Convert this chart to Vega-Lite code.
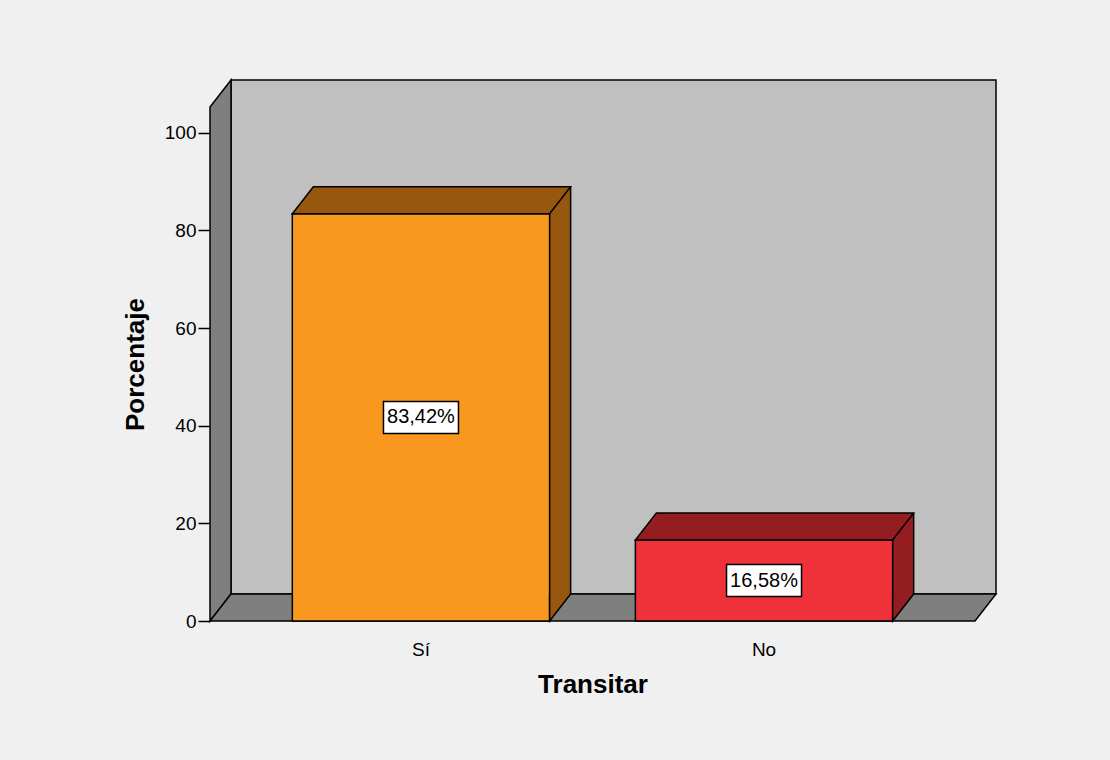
{
  "$schema": "https://vega.github.io/schema/vega-lite/v6.json",
  "autosize": "none",
  "width": 765,
  "height": 514,
  "padding": {"left": 210, "top": 107, "right": 135, "bottom": 139},
  "background": "#f0f0f0",
  "config": {"view": {"stroke": null}, "font": "Liberation Sans"},
  "data": {"values": [
    {"Transitar": "Sí", "Porcentaje": 83.42, "Etiqueta": "83,42%"},
    {"Transitar": "No", "Porcentaje": 16.58, "Etiqueta": "16,58%"}
  ]},
  "layer": [
    {
      "layer": [
        {
          "data": {"values": [{"pared": "fondo"}]},
          "mark": {"type": "point", "shape": "M21,-27 L786,-27 L786,-541 L21,-541 Z", "size": 4, "filled": true, "fill": "#c0c0c0", "stroke": "black", "strokeWidth": 1.5, "opacity": 1},
          "encoding": {"x": {"value": 0}, "y": {"datum": 0, "type": "quantitative"}}
        },
        {
          "data": {"values": [{"pared": "izquierda"}]},
          "mark": {"type": "point", "shape": "M0,0 L0,-514 L21,-541 L21,-27 Z", "size": 4, "filled": true, "fill": "#7f7f7f", "stroke": "black", "strokeWidth": 1.5, "opacity": 1},
          "encoding": {"x": {"value": 0}, "y": {"datum": 0, "type": "quantitative"}}
        },
        {
          "data": {"values": [{"pared": "suelo"}]},
          "mark": {"type": "point", "shape": "M0,0 L765,0 L786,-27 L21,-27 Z", "size": 4, "filled": true, "fill": "#7f7f7f", "stroke": "black", "strokeWidth": 1.5, "opacity": 1},
          "encoding": {"x": {"value": 0}, "y": {"datum": 0, "type": "quantitative"}}
        },
        {
          "mark": {"type": "bar", "xOffset": 21, "x2Offset": 21, "yOffset": -27, "y2Offset": -27, "strokeWidth": 0},
          "encoding": {
            "x": {"field": "Transitar", "type": "nominal", "sort": ["Sí", "No"], "scale": {"paddingInner": 0.25, "paddingOuter": 0.24, "round": false},
              "axis": {"ticks": false, "domain": false, "labelAngle": 0, "labelFontSize": 19, "labelColor": "black", "labelPadding": 19, "title": "Transitar", "titleFontSize": 26, "titleFontWeight": "bold", "titleColor": "black", "titlePadding": 12}},
            "y": {"field": "Porcentaje", "type": "quantitative", "scale": {"domain": [0, 105.3], "nice": false},
              "axis": {"values": [0, 20, 40, 60, 80, 100], "tickSize": 12, "tickColor": "black", "tickWidth": 1.5, "domain": false, "grid": false, "labelFontSize": 19, "labelColor": "black", "labelPadding": 2, "title": "Porcentaje", "titleFontSize": 26, "titleFontWeight": "bold", "titleColor": "black", "titlePadding": 16}},
            "y2": {"datum": 0},
            "fill": {"condition": {"test": "datum.Transitar === 'Sí'", "value": "#98570f"}, "value": "#941d22"}
          }
        },
        {
          "mark": {"type": "bar", "stroke": "black", "strokeWidth": 1.5},
          "encoding": {
            "x": {"field": "Transitar", "type": "nominal", "sort": ["Sí", "No"]},
            "y": {"field": "Porcentaje", "type": "quantitative"},
            "y2": {"datum": 0},
            "fill": {"condition": {"test": "datum.Transitar === 'Sí'", "value": "#f8981e"}, "value": "#ef313a"}
          }
        },
        {
          "mark": {"type": "point", "shape": "M-128.64,0 L128.64,0 L149.64,-27 L-107.64,-27 Z", "size": 4, "filled": true, "stroke": "black", "strokeWidth": 1.5, "opacity": 1},
          "encoding": {
            "x": {"field": "Transitar", "type": "nominal", "sort": ["Sí", "No"]},
            "y": {"field": "Porcentaje", "type": "quantitative"},
            "fill": {"condition": {"test": "datum.Transitar === 'Sí'", "value": "#98570f"}, "value": "#941d22"}
          }
        },
        {
          "mark": {"type": "point", "shape": "M128.64,-27 L128.64,0 L149.64,-27", "size": 4, "filled": true, "stroke": "black", "strokeWidth": 1.5, "opacity": 1},
          "encoding": {
            "x": {"field": "Transitar", "type": "nominal", "sort": ["Sí", "No"]},
            "y": {"datum": 0, "type": "quantitative"},
            "fill": {"condition": {"test": "datum.Transitar === 'Sí'", "value": "#98570f"}, "value": "#941d22"}
          }
        },
        {
          "mark": {"type": "rule", "xOffset": 21, "yOffset": -27, "y2Offset": -27, "stroke": "black", "strokeWidth": 1.5},
          "encoding": {
            "x": {"field": "Transitar", "type": "nominal", "sort": ["Sí", "No"], "bandPosition": 1},
            "y": {"field": "Porcentaje", "type": "quantitative"},
            "y2": {"datum": 0}
          }
        }
      ]
    },
    {
      "encoding": {
        "x": {"field": "Transitar", "type": "nominal", "sort": ["Sí", "No"]},
        "y": {"field": "Porcentaje", "type": "quantitative", "scale": {"domain": [0, 210.6], "nice": false}, "axis": null}
      },
      "layer": [
        {"mark": {"type": "point", "shape": "M-37.5,-16 L37.5,-16 L37.5,16 L-37.5,16 Z", "size": 4, "filled": true, "fill": "white", "stroke": "black", "strokeWidth": 1.5, "opacity": 1}},
        {"mark": {"type": "text", "fontSize": 20, "align": "center", "baseline": "middle", "color": "black"}, "encoding": {"text": {"field": "Etiqueta"}}}
      ]
    }
  ],
  "resolve": {"scale": {"y": "independent"}}
}
